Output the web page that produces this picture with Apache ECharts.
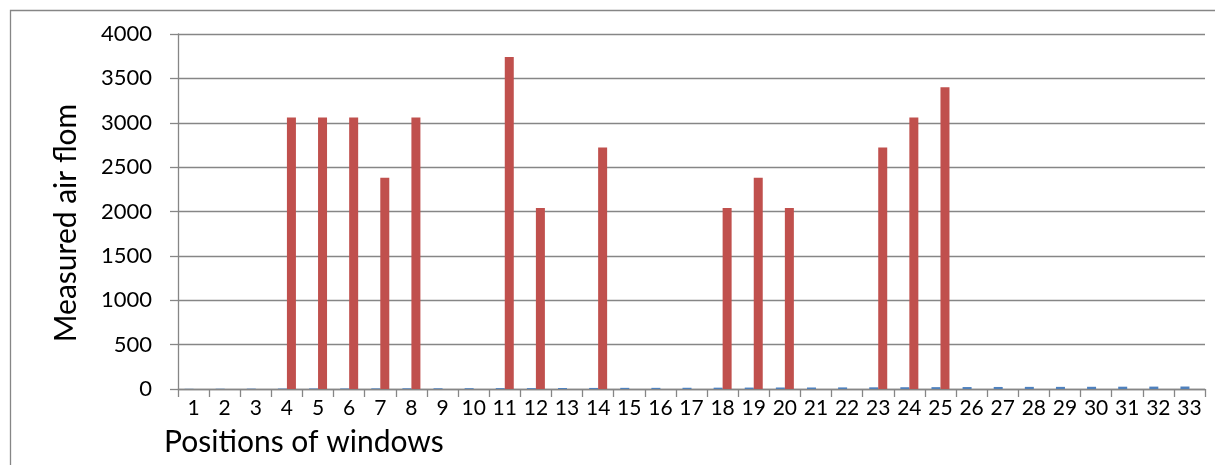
<!DOCTYPE html>
<html>
<head>
<meta charset="utf-8">
<script src="https://cdn.jsdelivr.net/npm/echarts@6/dist/echarts.min.js"></script>
<style>
  html, body { margin: 0; padding: 0; background: #fff; }
  #chart { width: 1215px; height: 465px; }
</style>
</head>
<body>
<div id="chart"></div>
<script>
// Window positions along the facade
const positions = ['1','2','3','4','5','6','7','8','9','10','11','12','13','14','15','16','17',
                   '18','19','20','21','22','23','24','25','26','27','28','29','30','31','32','33'];

// Small baseline flow at every window
const baseFlow = [2, 3, 4, 5, 6, 6, 7, 8, 8, 9, 10, 10, 11, 12, 13, 13, 14,
                  15, 16, 17, 17, 18, 19, 20, 21, 22, 23, 24, 24, 25, 26, 27, 28];

// Measured air flow per window
const measuredFlow = [0, 0, 0, 3060, 3060, 3060, 2380, 3060, 0, 0, 3740, 2040, 0, 2720, 0, 0, 0,
                      2040, 2380, 2040, 0, 0, 2720, 3060, 3400, 0, 0, 0, 0, 0, 0, 0, 0];

const yTicks = { min: 0, max: 4000, interval: 500 };

const gray = '#868686';
const font = 'Lato, "Open Sans", sans-serif';

const chart = echarts.init(document.getElementById('chart'), null, { renderer: 'canvas' });

chart.setOption({
  animation: false,
  backgroundColor: '#ffffff',
  grid: { left: 178, right: 10, top: 34, bottom: 76, containLabel: false },
  xAxis: {
    type: 'category',
    data: positions,
    boundaryGap: true,
    axisLine: { show: true, lineStyle: { color: gray, width: 1.3 } },
    axisTick: { show: true, interval: 0, length: 8, inside: false, lineStyle: { color: gray, width: 1.3 } },
    axisLabel: { interval: 0, margin: 9, color: '#000', fontFamily: font, fontSize: 21 },
    splitLine: { show: false }
  },
  yAxis: {
    type: 'value',
    min: yTicks.min,
    max: yTicks.max,
    interval: yTicks.interval,
    axisLine: { show: true, lineStyle: { color: gray, width: 1.3 } },
    axisTick: { show: true, length: 8, lineStyle: { color: gray, width: 1.3 } },
    axisLabel: {
      margin: 26, color: '#000', fontFamily: font, fontSize: 22,
      formatter: (v) => String(v)
    },
    splitLine: { show: true, lineStyle: { color: gray, width: 1.3 } }
  },
  series: [
    {
      name: 'Base',
      type: 'bar',
      data: baseFlow,
      barWidth: 9,
      barGap: '0%',
      itemStyle: { color: '#4F81BD' }
    },
    {
      name: 'Measured',
      type: 'bar',
      data: measuredFlow,
      barWidth: 9,
      barGap: '0%',
      itemStyle: { color: '#C0504D' }
    }
  ],
  graphic: [
    {
      type: 'rect',
      silent: true,
      shape: { x: 10.5, y: 10.5, width: 1400, height: 800 },
      style: { fill: 'none', stroke: gray, lineWidth: 1.3 }
    },
    {
      type: 'text',
      silent: true,
      x: 66,
      y: 223,
      rotation: Math.PI / 2,
      style: {
        text: 'Measured air flom',
        fontFamily: font,
        fontSize: 30,
        fill: '#000',
        textAlign: 'center',
        textVerticalAlign: 'middle'
      }
    },
    {
      type: 'text',
      silent: true,
      x: 164,
      y: 442,
      style: {
        text: 'Positions of windows',
        fontFamily: font,
        fontSize: 30,
        fill: '#000',
        textAlign: 'left',
        textVerticalAlign: 'middle'
      }
    }
  ]
});
</script>
</body>
</html>
